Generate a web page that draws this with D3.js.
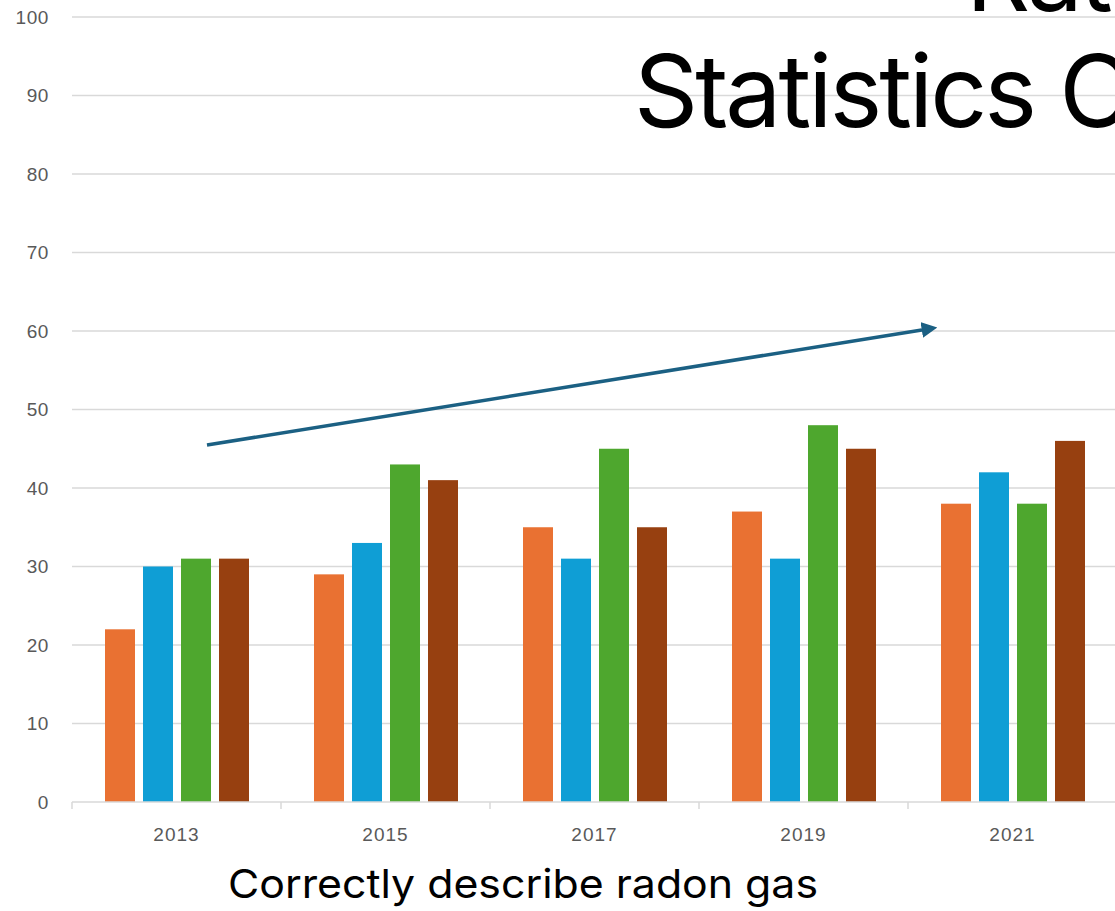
<!DOCTYPE html>
<html>
<head>
<meta charset="utf-8">
<script src="https://cdn.jsdelivr.net/npm/d3@7"></script>
<style>
html,body{margin:0;padding:0;background:#fff;overflow:hidden;}
svg{display:block;}
</style>
</head>
<body>
<script>
const categories = ["2013","2015","2017","2019","2021"];
const seriesNames = ["Series A","Series B","Series C","Series D"];
const seriesA = [22,29,35,37,38];
const seriesB = [30,33,31,31,42];
const seriesC = [31,43,45,48,38];
const seriesD = [31,41,35,45,46];
const yTicks = [0,10,20,30,40,50,60,70,80,90,100];
const titleLines = ["Rates of Awareness", "Statistics Canada"];
const xAxisTitle = "Correctly describe radon gas";
const colors = ["#E97132","#0F9ED5","#4EA72E","#974010"];

const W = 1115, H = 911;
const svg = d3.select("body").append("svg").attr("width", W).attr("height", H);

const x0 = d3.scaleBand().domain(categories).range([72, 72 + 209*5]).paddingInner(0).paddingOuter(0);
const x1 = d3.scaleBand().domain(seriesNames).range([33, 33 + 4*38 - 8]).paddingInner(8/38).paddingOuter(0);
const y = d3.scaleLinear().domain([0,100]).range([802, 17]);

// gridlines
svg.append("g").selectAll("line").data(yTicks.slice(1)).join("line")
  .attr("x1", 72).attr("x2", W)
  .attr("y1", d => y(d)).attr("y2", d => y(d))
  .attr("stroke", "#d9d9d9").attr("stroke-width", 1.5);

// y labels
const yAxis = d3.axisLeft(y).tickValues(yTicks).tickSize(0).tickPadding(0);
const gy = svg.append("g").attr("transform", "translate(49,0)").call(yAxis);
gy.select(".domain").remove();
gy.selectAll("text").attr("fill", "#595959").attr("font-size", 19)
  .attr("font-family", "Liberation Sans, Arial, sans-serif").attr("letter-spacing", 0.6);

// bars
const allSeries = [seriesA, seriesB, seriesC, seriesD];
const data = [];
categories.forEach((c, i) => {
  seriesNames.forEach((s, j) => data.push({c, s, v: allSeries[j][i], color: colors[j]}));
});
svg.append("g").selectAll("rect").data(data).join("rect")
  .attr("x", d => x0(d.c) + x1(d.s))
  .attr("width", x1.bandwidth())
  .attr("y", d => y(d.v))
  .attr("height", d => y(0) - y(d.v))
  .attr("fill", d => d.color);

// x axis
const xAxis = d3.axisBottom(x0).tickSize(0).tickPadding(0);
const gx = svg.append("g").attr("transform", "translate(0,802)").call(xAxis);
gx.select(".domain").remove();
gx.selectAll("text").attr("fill", "#595959").attr("font-size", 19)
  .attr("font-family", "Liberation Sans, Arial, sans-serif").attr("letter-spacing", 1)
  .attr("dy", "0").attr("y", 39);
svg.append("line").attr("x1", 72).attr("x2", W).attr("y1", 802).attr("y2", 802)
  .attr("stroke", "#d9d9d9").attr("stroke-width", 1.5);
const tickPos = categories.map(c => x0(c)).concat([x0.range()[1]]);
svg.append("g").selectAll("line").data(tickPos).join("line")
  .attr("x1", d => d).attr("x2", d => d).attr("y1", 802).attr("y2", 809)
  .attr("stroke", "#d9d9d9").attr("stroke-width", 1.5);

// x axis title
svg.append("text").attr("x", 523).attr("y", 898).attr("text-anchor", "middle")
  .attr("font-size", 40).attr("font-family", "Inter, Liberation Sans, sans-serif")
  .attr("fill", "#000").text(xAxisTitle)
  .attr("textLength", 590).attr("lengthAdjust", "spacingAndGlyphs");

// title
svg.append("text").attr("x", 966).attr("y", 11).attr("font-size", 100).attr("letter-spacing", -3)
  .attr("font-family", "Inter, Liberation Sans, sans-serif").attr("fill", "#000").text(titleLines[0]);
svg.append("text").attr("x", 634).attr("y", 127).attr("font-size", 100).attr("letter-spacing", -3)
  .attr("font-family", "Inter, Liberation Sans, sans-serif").attr("fill", "#000").text(titleLines[1]);

// arrow
const defs = svg.append("defs");
defs.append("marker").attr("id", "ah").attr("viewBox", "0 0 10 10").attr("refX", 4).attr("refY", 5)
  .attr("markerWidth", 4.5).attr("markerHeight", 4.5).attr("orient", "auto")
  .append("path").attr("d", "M0,0 L10,5 L0,10 Z").attr("fill", "#1B6083");
svg.append("line").attr("x1", 207).attr("y1", 445).attr("x2", 928).attr("y2", 329)
  .attr("stroke", "#1B6083").attr("stroke-width", 3.5).attr("marker-end", "url(#ah)");
</script>
</body>
</html>
